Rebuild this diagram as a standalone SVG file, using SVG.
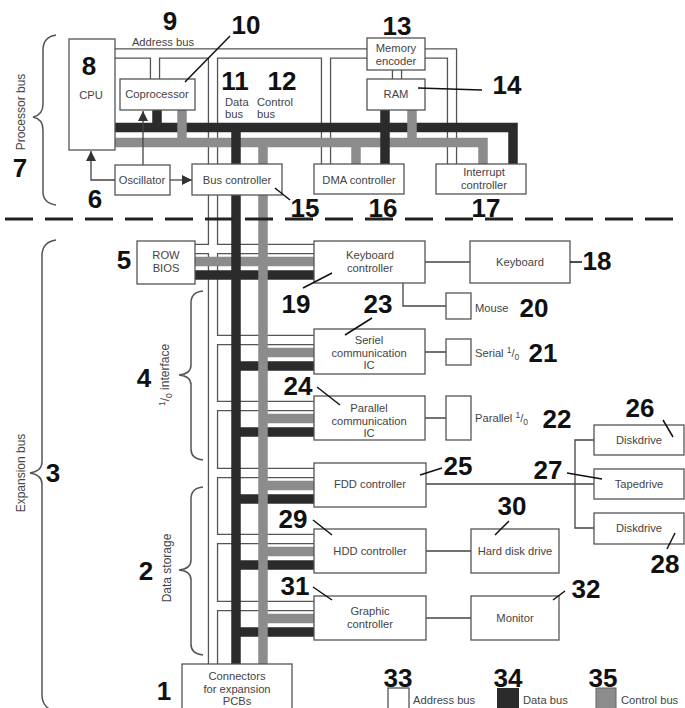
<svg xmlns="http://www.w3.org/2000/svg" xmlns:xlink="http://www.w3.org/1999/xlink" width="685" height="708" viewBox="0 0 685 708">
<style>
.box{fill:#fff;stroke:#555;stroke-width:1.3}
.t{font-family:'Liberation Sans',Arial,sans-serif;font-size:11.2px;fill:#444;text-anchor:middle}
.tl{font-family:'Liberation Sans',Arial,sans-serif;font-size:11.2px;fill:#444;text-anchor:start}
.n{font-family:'Liberation Sans',Arial,sans-serif;font-weight:bold;font-size:26px;fill:#111;text-anchor:middle}
.ln{fill:none;stroke:#444;stroke-width:1.3}
.lead{fill:none;stroke:#111;stroke-width:1.5}
.brace{fill:none;stroke:#555;stroke-width:1.5}
.ao{fill:none;stroke:#555;stroke-width:10.4;stroke-linejoin:miter}
.ai{fill:none;stroke:#fff;stroke-width:7.8;stroke-linejoin:miter}
.db{fill:none;stroke:#2b2b2b;stroke-width:9.5;stroke-linejoin:miter}
.cb{fill:none;stroke:#8c8c8c;stroke-width:9.5;stroke-linejoin:miter}
.sup{font-size:8.5px}
</style>
<defs>
<marker id="arr" markerUnits="userSpaceOnUse" markerWidth="10" markerHeight="10" viewBox="0 0 10 10" refX="10" refY="5" orient="auto">
<path d="M0,0 L10,5 L0,10 Z" fill="#333"/>
</marker>
<path id="addr" d="M115,53.5 H452 V164 M155,53.5 V79 M213,53.5 V664 M326,53.5 V164 M397,70 V79 M195,249 H314 M213,340 H314 M213,406 H314 M213,473 H314 M213,539 H314 M213,606 H314"/>
</defs>

<g id="braces">
<path class="brace" d="M56,35 Q43,37 43,50 V104 Q43,115 33,117 Q43,119 43,130 V192 Q43,203 56,205"/>
<path class="brace" d="M56,240 Q42,242 42,256 V462 Q42,471 30,473 Q42,475 42,484 V695 Q42,708 56,712"/>
<path class="brace" d="M203,291 Q191,292 191,303 V365 Q191,374 179,375 Q191,376 191,385 V449 Q191,459 203,460"/>
<path class="brace" d="M203,487 Q191,488 191,499 V560 Q191,569 179,570 Q191,571 191,580 V644 Q191,654 203,655"/>
<text class="t" transform="translate(25,112) rotate(-90)" style="font-size:12px">Processor bus</text>
<text class="t" transform="translate(25,473) rotate(-90)" style="font-size:12px">Expansion bus</text>
<text class="t" transform="translate(169,375) rotate(-90)" style="font-size:12px"><tspan class="sup" dy="-4">1</tspan><tspan dy="4">/</tspan><tspan class="sup" dy="3">0</tspan><tspan dy="-3"> interface</tspan></text>
<text class="t" transform="translate(171,568) rotate(-90)" style="font-size:12px">Data storage</text>
</g>

<g id="connectors">
<use xlink:href="#addr" class="ao"/>
<use xlink:href="#addr" class="ai"/>
<path class="db" d="M115,127.5 H513 V164 M195,275 H314 M236,366 H314 M236,432 H314 M236,499 H314 M236,565 H314 M236,632 H314"/>
<path class="cb" d="M115,142.5 H483 V164 M195,261.5 H314 M263,352.5 H314 M263,418.5 H314 M263,485.5 H314 M263,551.5 H314 M263,618.5 H314"/>
<path class="db" d="M157,110 V127.5 M385,110 V164 M236,127.5 V664"/>
<path class="cb" d="M182,110 V142.5 M356,142.5 V164 M412,110 V142.5 M263,142.5 V664"/>
<path class="ln" d="M143,165 V111" marker-end="url(#arr)"/>
<path class="ln" d="M115,180 H91 V151" marker-end="url(#arr)"/>
<path class="ln" d="M170,180 H192" marker-end="url(#arr)"/>
<path class="ln" d="M425,262 H470 M403,283 V306 H446 M425,352 H446 M425,418 H446 M426,484 H594 M594,440 H575 V528 H594 M426,551 H471 M426,618 H471"/>
<line x1="5" y1="219" x2="685" y2="219" stroke="#222" stroke-width="3" stroke-dasharray="28 12"/>
</g>

<g id="cpu"><rect class="box" x="69" y="39" width="46" height="111"/><text class="t" x="91" y="99">CPU</text><text class="n" x="89" y="75">8</text></g>
<g id="coprocessor"><rect class="box" x="120" y="79" width="75" height="31"/><text class="t" x="157" y="98">Coprocessor</text></g>
<g id="oscillator"><rect class="box" x="115" y="165" width="55" height="30"/><text class="t" x="142" y="184">Oscillator</text></g>
<g id="bus-controller"><rect class="box" x="192" y="164" width="90" height="31"/><text class="t" x="237" y="184">Bus controller</text></g>
<g id="memory-encoder"><rect class="box" x="367" y="38" width="58" height="32"/><text class="t" x="396" y="52">Memory</text><text class="t" x="396" y="64.5">encoder</text></g>
<g id="ram"><rect class="box" x="367" y="79" width="58" height="31"/><text class="t" x="396" y="98">RAM</text></g>
<g id="dma-controller"><rect class="box" x="314" y="164" width="90" height="30"/><text class="t" x="359" y="184">DMA controller</text></g>
<g id="interrupt-controller"><rect class="box" x="436" y="164" width="90" height="30"/><text class="t" x="484" y="176">Interrupt</text><text class="t" x="484" y="188.5">controller</text></g>
<g id="row-bios"><rect class="box" x="137" y="241" width="58" height="43"/><text class="t" x="166" y="259">ROW</text><text class="t" x="166" y="271.5">BIOS</text></g>
<g id="keyboard-controller"><rect class="box" x="314" y="241" width="111" height="42"/><text class="t" x="370" y="259">Keyboard</text><text class="t" x="370" y="271.5">controller</text></g>
<g id="keyboard"><rect class="box" x="470" y="241" width="100" height="42"/><text class="t" x="520" y="266">Keyboard</text></g>
<g id="mouse"><rect class="box" x="446" y="293" width="25" height="26"/><text class="tl" x="475" y="312">Mouse</text></g>
<g id="seriel-ic"><rect class="box" x="314" y="329" width="111" height="45"/><text class="t" x="369" y="344">Seriel</text><text class="t" x="369" y="356.5">communication</text><text class="t" x="369" y="369">IC</text></g>
<g id="serial-io"><rect class="box" x="446" y="339" width="25" height="26"/><text class="tl" x="475" y="357">Serial <tspan class="sup" dy="-4">1</tspan><tspan dy="4">/</tspan><tspan class="sup" dy="3">0</tspan></text></g>
<g id="parallel-ic"><rect class="box" x="314" y="396" width="111" height="44"/><text class="t" x="369" y="412">Parallel</text><text class="t" x="369" y="424.5">communication</text><text class="t" x="369" y="437">IC</text></g>
<g id="parallel-io"><rect class="box" x="446" y="396" width="25" height="44"/><text class="tl" x="475" y="422">Parallel <tspan class="sup" dy="-4">1</tspan><tspan dy="4">/</tspan><tspan class="sup" dy="3">0</tspan></text></g>
<g id="fdd-controller"><rect class="box" x="314" y="463" width="112" height="44"/><text class="t" x="370" y="488">FDD controller</text></g>
<g id="diskdrive-1"><rect class="box" x="594" y="425" width="90" height="30"/><text class="t" x="639" y="444">Diskdrive</text></g>
<g id="tapedrive"><rect class="box" x="594" y="469" width="90" height="30"/><text class="t" x="639" y="488">Tapedrive</text></g>
<g id="diskdrive-2"><rect class="box" x="594" y="513" width="90" height="31"/><text class="t" x="639" y="532">Diskdrive</text></g>
<g id="hdd-controller"><rect class="box" x="314" y="529" width="112" height="44"/><text class="t" x="370" y="555">HDD controller</text></g>
<g id="hard-disk"><rect class="box" x="471" y="529" width="88" height="44"/><text class="t" x="515" y="555">Hard disk drive</text></g>
<g id="graphic-controller"><rect class="box" x="314" y="596" width="112" height="44"/><text class="t" x="370" y="615">Graphic</text><text class="t" x="370" y="627.5">controller</text></g>
<g id="monitor"><rect class="box" x="471" y="596" width="88" height="44"/><text class="t" x="515" y="622">Monitor</text></g>
<g id="connectors-pcb"><rect class="box" x="182" y="664" width="110" height="50"/><text class="t" x="237" y="680">Connectors</text><text class="t" x="237" y="692.5">for expansion</text><text class="t" x="237" y="705">PCBs</text></g>

<g id="bus-labels">
<text class="t" x="163" y="46">Address bus</text>
<text class="tl" x="225" y="105.5">Data</text><text class="tl" x="225" y="118">bus</text>
<text class="tl" x="257" y="105.5">Control</text><text class="tl" x="257" y="118">bus</text>
</g>

<g id="legend">
<rect x="388" y="688" width="21" height="24" fill="#fff" stroke="#555" stroke-width="1.3"/>
<text class="tl" x="413" y="704">Address bus</text>
<rect x="497" y="688" width="22" height="24" fill="#2b2b2b"/>
<text class="tl" x="523" y="704">Data bus</text>
<rect x="596" y="688" width="20" height="24" fill="#8c8c8c" stroke="#666" stroke-width="1"/>
<text class="tl" x="621" y="704">Control bus</text>
</g>

<g id="leaders">
<path class="lead" d="M185,82 L230,36 M418,88 L482,90 M275,188 L290,200 M332,273 L303,288 M372,318 L345,335 M317,387 L340,405 M420,475 L442,468 M567,473 L602,479 M663,420 L673,437 M675,533 L667,549 M313,520 L332,535 M495,535 L509,521 M313,587 L332,600 M553,600 L565,591 M570,262 L582,262"/>
</g>

<g id="numbers">
<text class="n" x="20" y="177">7</text>
<text class="n" x="95" y="208">6</text>
<text class="n" x="170" y="30">9</text>
<text class="n" x="246" y="34">10</text>
<text class="n" x="235" y="90">11</text>
<text class="n" x="282" y="90">12</text>
<text class="n" x="397" y="35">13</text>
<text class="n" x="507" y="94">14</text>
<text class="n" x="305" y="217">15</text>
<text class="n" x="383" y="217">16</text>
<text class="n" x="486" y="217">17</text>
<text class="n" x="124" y="269">5</text>
<text class="n" x="597" y="270">18</text>
<text class="n" x="296" y="313">19</text>
<text class="n" x="378" y="313">23</text>
<text class="n" x="534" y="317">20</text>
<text class="n" x="543" y="362">21</text>
<text class="n" x="144" y="387">4</text>
<text class="n" x="298" y="395">24</text>
<text class="n" x="557" y="428">22</text>
<text class="n" x="640" y="417">26</text>
<text class="n" x="458" y="475">25</text>
<text class="n" x="548" y="479">27</text>
<text class="n" x="53" y="482">3</text>
<text class="n" x="512" y="515">30</text>
<text class="n" x="293" y="528">29</text>
<text class="n" x="665" y="573">28</text>
<text class="n" x="146" y="580">2</text>
<text class="n" x="295" y="595">31</text>
<text class="n" x="586" y="598">32</text>
<text class="n" x="398" y="687">33</text>
<text class="n" x="508" y="687">34</text>
<text class="n" x="603" y="687">35</text>
<text class="n" x="164" y="700">1</text>
</g>
</svg>
